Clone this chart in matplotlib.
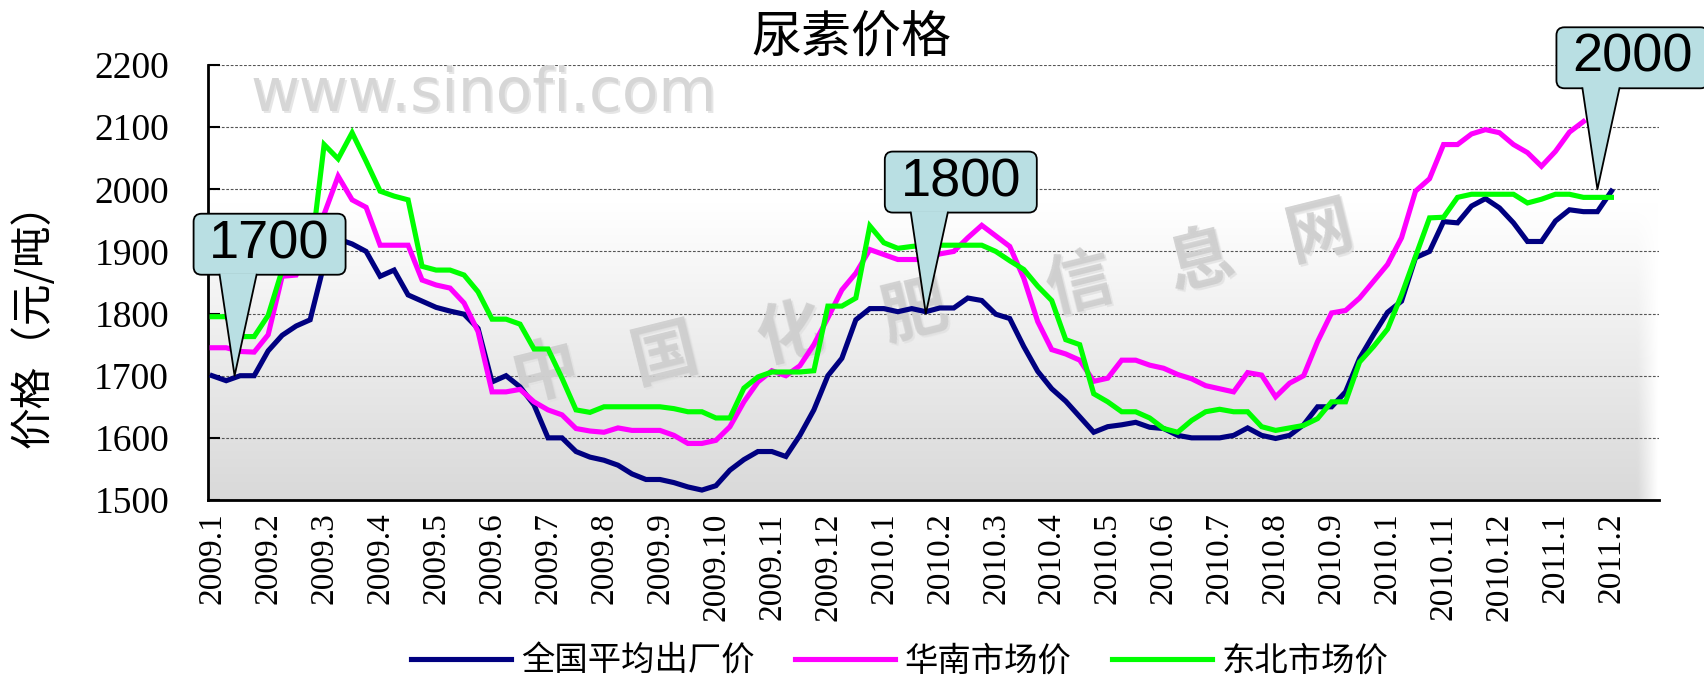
import numpy as np
import matplotlib
matplotlib.use("Agg")
import matplotlib.pyplot as plt
from matplotlib.patches import FancyBboxPatch, Polygon
from matplotlib.lines import Line2D
from matplotlib.transforms import IdentityTransform
from matplotlib.font_manager import FontProperties

W, H = 1704, 679

# month labels on the category axis (one label every 4 weekly points)
month_labels = ["2009.1", "2009.2", "2009.3", "2009.4", "2009.5", "2009.6",
                "2009.7", "2009.8", "2009.9", "2009.10", "2009.11", "2009.12",
                "2010.1", "2010.2", "2010.3", "2010.4", "2010.5", "2010.6",
                "2010.7", "2010.8", "2010.9", "2010.1", "2010.11", "2010.12",
                "2011.1", "2011.2"]
weeks_per_label = 4
n_slots = 104

# weekly prices, yuan/ton
national = [1700, 1692, 1700, 1700, 1740, 1765, 1780, 1790, 1880, 1920,
            1912, 1900, 1860, 1870, 1830, 1820, 1810, 1804, 1799, 1776,
            1690, 1700, 1682, 1653, 1600, 1600, 1578, 1569, 1564, 1556,
            1542, 1533, 1533, 1528, 1521, 1516, 1523, 1548, 1565, 1578,
            1578, 1570, 1604, 1645, 1700, 1728, 1790, 1808, 1808, 1803,
            1808, 1803, 1809, 1809, 1825, 1821, 1799, 1792, 1747, 1707,
            1679, 1659, 1634, 1609, 1618, 1621, 1625, 1617, 1615, 1604,
            1600, 1600, 1600, 1604, 1616, 1604, 1599, 1604, 1621, 1650,
            1650, 1674, 1728, 1766, 1802, 1820, 1890, 1900, 1948, 1946,
            1973, 1985, 1970, 1946, 1916, 1916, 1949, 1967, 1964, 1964,
            1997]
south = [1745, 1745, 1739, 1738, 1766, 1860, 1862, 1905, 1960, 2021,
         1983, 1971, 1910, 1910, 1910, 1854, 1846, 1841, 1817, 1771,
         1674, 1674, 1678, 1658, 1645, 1637, 1615, 1611, 1609, 1616,
         1612, 1612, 1612, 1604, 1591, 1591, 1596, 1618, 1658, 1690,
         1708, 1700, 1716, 1750, 1793, 1838, 1865, 1903, 1895, 1887,
         1887, 1887, 1896, 1900, 1922, 1942, 1925, 1908, 1857, 1787,
         1742, 1735, 1725, 1691, 1696, 1725, 1725, 1717, 1712, 1702,
         1695, 1684, 1679, 1674, 1705, 1701, 1666, 1688, 1700, 1755,
         1801, 1805, 1825, 1852, 1879, 1922, 1997, 2017, 2072, 2072,
         2089, 2096, 2091, 2072, 2059, 2037, 2061, 2092, 2109]
northeast = [1795, 1795, 1763, 1763, 1797, 1870, 1872, 1885, 2072, 2049,
             2091, 2045, 1997, 1989, 1983, 1876, 1870, 1870, 1862, 1835,
             1791, 1791, 1783, 1743, 1743, 1696, 1645, 1641, 1650, 1650,
             1650, 1650, 1650, 1647, 1642, 1642, 1632, 1632, 1680, 1698,
             1706, 1706, 1706, 1708, 1812, 1812, 1825, 1941, 1914, 1905,
             1908, 1910, 1910, 1910, 1910, 1910, 1900, 1885, 1871, 1844,
             1821, 1758, 1750, 1671, 1658, 1642, 1642, 1632, 1615, 1609,
             1628, 1642, 1646, 1642, 1642, 1618, 1612, 1616, 1620, 1631,
             1658, 1658, 1722, 1747, 1775, 1830, 1892, 1954, 1955, 1987,
             1992, 1992, 1992, 1992, 1978, 1984, 1992, 1992, 1987, 1987,
             1987]

series_names = ["全国平均出厂价", "华南市场价", "东北市场价"]
series_colors = ["#000080", "#FF00FF", "#00FF00"]

# callouts: label value and week index where the pointer lands
callout_values = [1700, 1800, 2000]
callout_weeks = [1.6, 51, 99]
BOX = "#b9dfe3"

fig = plt.figure(figsize=(W / 100, H / 100), dpi=100)
ax = fig.add_axes([208 / W, 1 - 500 / H, (1659 - 208) / W, (500 - 65) / H])

# grey gradient background of the plot area
rows, cols = 300, 600
yfrac = np.linspace(1, 0, rows)[:, None]
xfrac = np.linspace(0, 1, cols)[None, :]
grey = 0.85 + 0.15 * np.clip(yfrac / 0.68, 0, 1)
fade = np.clip((1 - xfrac) / 0.014, 0, 1)
shade = 1 - (1 - grey) * fade
img = np.dstack([shade, shade, shade])
ax.imshow(img, extent=[0, 1, 0, 1], transform=ax.transAxes, aspect="auto",
          interpolation="bilinear", zorder=0)

# watermarks (soft grey, drawn twice for a blurred look)
for dx, dy, c in [(2, -2, "#e6e6e6"), (0, 0, "#d6d6d6")]:
    ax.text((484 + dx) / W, 1 - (95 - dy) / H, "www.sinofi.com", transform=fig.transFigure,
            fontsize=43, family="DejaVu Sans", color=c,
            ha="center", va="center", zorder=1)
wm_chars = "中国化肥信息网"
wm_xy = [(545, 373), (665, 355), (790, 335), (915, 313), (1080, 285), (1200, 262), (1320, 232)]
for ch, (cx, cy) in zip(wm_chars, wm_xy):
    for dx, c in [(2, "#e2e2e2"), (0, "#cccccc")]:
        ax.text((cx + dx) / W, 1 - (cy + dx) / H, ch, transform=fig.transFigure, fontsize=48,
                fontweight="bold", family="Noto Sans CJK SC", color=c,
                alpha=0.85, ha="center", va="center", rotation=14, zorder=1)

weeks = np.arange(n_slots)
for vals, name, col in zip([national, south, northeast], series_names, series_colors):
    ax.plot(weeks[:len(vals)], vals, color=col, linewidth=3.7, label=name,
            solid_joinstyle="miter", zorder=3)

ax.set_xlim(-0.3, 103.4)
ax.set_ylim(1500, 2200)
ax.set_yticks(np.arange(1500, 2201, 100))
ax.set_xticks(np.arange(0, len(month_labels) * weeks_per_label, weeks_per_label))
ax.set_xticklabels(month_labels, rotation=90, va="top", ha="center")

ax.yaxis.grid(True, linestyle=(0, (2.5, 1.5)), color="#555555", linewidth=0.8)
ax.set_axisbelow(True)
for s in ["top", "right"]:
    ax.spines[s].set_visible(False)
for s in ["left", "bottom"]:
    ax.spines[s].set_linewidth(2)
    ax.spines[s].set_color("black")

ax.tick_params(axis="y", direction="in", length=8.6, width=1.5, pad=28,
               labelsize=27)
ax.tick_params(axis="x", length=0, pad=9, labelsize=24)
for lab in ax.get_xticklabels() + ax.get_yticklabels():
    lab.set_family("Liberation Serif")

fig.text(33 / W, 1 - 315 / H, "价格（元/吨）", rotation=90, ha="center",
         va="center", fontsize=30, family="Noto Sans CJK SC")
fig.text(851 / W, 1 - 38 / H, "尿素价格", ha="center", va="center",
         fontsize=36, family="Noto Sans CJK SC")

handles, labels = ax.get_legend_handles_labels()
fig.legend(handles, labels, loc="center", bbox_to_anchor=(900 / W, 1 - 661 / H),
           ncol=3, frameon=False, prop=FontProperties(family="Noto Sans CJK SC", size=24),
           handlelength=3.0, handletextpad=0.3, columnspacing=1.2)

# callout boxes with pointers (pixel geometry relative to the tip)
ident = IdentityTransform()
for val, wk in zip(callout_values, callout_weeks):
    px, py = ax.transData.transform((wk, val))
    left, right = px - 41, px + 111
    bot, top = py + 101, py + 162
    r = 8
    box = FancyBboxPatch((left + r, bot + r), right - left - 2 * r, top - bot - 2 * r,
                         boxstyle=f"round,pad={r}", transform=ident,
                         facecolor=BOX, edgecolor="black", linewidth=1.3, zorder=6)
    fig.add_artist(box)
    tri = Polygon([(px - 15, bot + 1.5), (px + 22, bot + 1.5), (px, py)], closed=True,
                  facecolor=BOX, edgecolor="none", transform=ident, zorder=7)
    fig.add_artist(tri)
    fig.add_artist(Line2D([px - 15, px, px + 22], [bot, py, bot], color="black",
                          linewidth=1.3, transform=ident, zorder=8))
    fig.text(px + 35, (bot + top) / 2, str(val), transform=ident, ha="center",
             va="center", fontsize=39, family="Liberation Sans", zorder=9)

fig.savefig("out.png", dpi=100)
